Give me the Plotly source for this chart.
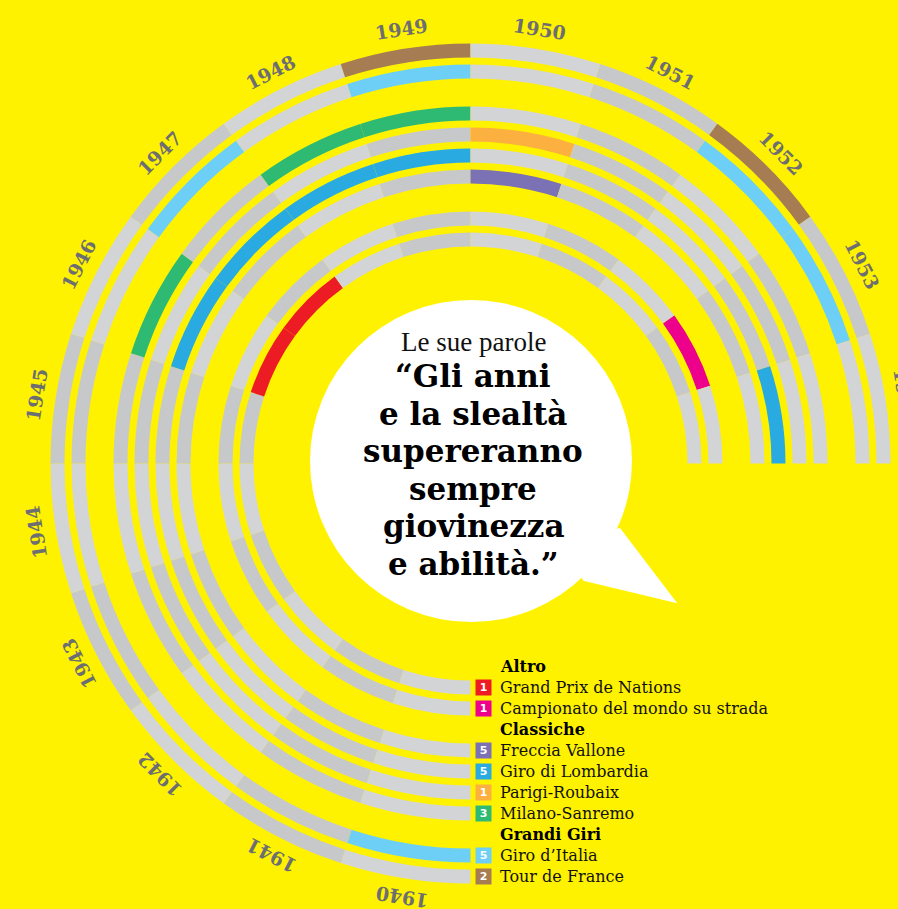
import math
import plotly.graph_objects as go

# ---------------- data ----------------
years = list(range(1940, 1955))
year_labels = [str(y) for y in years]

races = ["Grand Prix de Nations", "Campionato del mondo su strada", "Freccia Vallone",
         "Giro di Lombardia", "Parigi-Roubaix", "Milano-Sanremo", "Giro d’Italia", "Tour de France"]
group_names = ["Altro", "Classiche", "Grandi Giri"]
legend_counts = ["1", "1", "5", "5", "1", "3", "5", "2"]

wins_gp_nations = [1946, 1947]
wins_mondiale = [1953]
wins_freccia = [1950]
wins_lombardia = [1946, 1947, 1948, 1949, 1954]
wins_roubaix = [1950]
wins_sanremo = [1946, 1948, 1949]
wins_giro = [1940, 1947, 1949, 1952, 1953]
wins_tour = [1949, 1952]
wins = [wins_gp_nations, wins_mondiale, wins_freccia, wins_lombardia,
        wins_roubaix, wins_sanremo, wins_giro, wins_tour]

quote_intro = "Le sue parole"
quote_lines = ["“Gli anni", "e la slealtà", "supereranno", "sempre", "giovinezza", "e abilità.”"]

# ---------------- style ----------------
W, H = 898, 909
BG = "#FFF200"
GRAY_LIGHT = "#D3D4D6"
GRAY_DARK = "#C7C8CA"
LABEL_GRAY = "#6D6E71"
race_colors = ["#ED1C24", "#EC008C", "#7B71B5", "#29ABE2", "#FBB040", "#2EBA73", "#6DCFF5", "#A67C52"]

CX, CY = 470.5, 463.5        # centre in px (from top-left)
R_MAX = 421
BASE0, PITCH, THICK = 217, 21, 14
ring_slots = [0, 1, 3, 4, 5, 6, 8, 9]
header_slots = [-1, 2, 7]
SEG = 270 / len(years)

def px(x):
    return x / W

def py(y):
    return 1 - y / H

def theta_of(year):
    return (180 + SEG * (year - years[0]) + SEG / 2) % 360

fig = go.Figure()
thetas = [theta_of(y) for y in years]
for i, race in enumerate(races):
    inner = BASE0 + PITCH * ring_slots[i]
    cols = []
    for y in years:
        if y in wins[i]:
            cols.append(race_colors[i])
        else:
            cols.append(GRAY_LIGHT if y % 2 == 0 else GRAY_DARK)
    fig.add_trace(go.Barpolar(
        r=[THICK] * len(years), base=[inner] * len(years), theta=thetas,
        width=[SEG] * len(years), marker=dict(color=cols, line=dict(width=0)),
        name=race, showlegend=False, hoverinfo="skip"))

fig.update_layout(
    width=W, height=H, autosize=False,
    margin=dict(l=0, r=0, t=0, b=0),
    paper_bgcolor=BG, plot_bgcolor=BG,
    polar=dict(
        domain=dict(x=[px(CX - R_MAX), px(CX + R_MAX)], y=[py(CY + R_MAX), py(CY - R_MAX)]),
        bgcolor="rgba(0,0,0,0)", bargap=0, hole=0,
        radialaxis=dict(range=[0, R_MAX], visible=False),
        angularaxis=dict(visible=False, rotation=90, direction="clockwise"),
    ),
)

ann = []
# year labels
LR = 439.5
for y, lab in zip(years, year_labels):
    a = theta_of(y)
    x = CX + LR * math.sin(math.radians(a))
    yy = CY - LR * math.cos(math.radians(a))
    ta = a if a <= 180 else a - 360
    ann.append(dict(x=px(x), y=py(yy), xref="paper", yref="paper", text="<b>%s</b>" % lab,
                    showarrow=False, textangle=ta, xanchor="center", yanchor="middle",
                    font=dict(family="DejaVu Serif", size=19, color=LABEL_GRAY)))

# speech bubble
BX, BY, BR = 471, 461, 161
shapes = [
    dict(type="circle", xref="paper", yref="paper", x0=px(BX - BR), x1=px(BX + BR),
         y0=py(BY + BR), y1=py(BY - BR), fillcolor="white", line=dict(width=0), layer="below"),
]
tail = [(620, 528), (677.3, 603.3), (583.3, 580.7), (560, 540)]
path = "M " + " L ".join("%f,%f" % (px(a), py(b)) for a, b in tail) + " Z"
shapes.append(dict(type="path", xref="paper", yref="paper", path=path,
                   fillcolor="white", line=dict(width=0), layer="below"))

ann.append(dict(x=px(474), y=py(342), xref="paper", yref="paper", text=quote_intro,
                showarrow=False, xanchor="center", yanchor="middle",
                font=dict(family="Liberation Serif", size=27, color="#111111")))
for k, line in enumerate(quote_lines):
    ann.append(dict(x=px(473), y=py(376 + 37.6 * k), xref="paper", yref="paper",
                    text="<b>%s</b>" % line, showarrow=False, xanchor="center", yanchor="middle",
                    font=dict(family="DejaVu Serif", size=31, color="#000000")))

# legend
for i, race in enumerate(races):
    yc = CY + BASE0 + PITCH * ring_slots[i] + THICK / 2
    ann.append(dict(x=px(483.5), y=py(yc), xref="paper", yref="paper",
                    text="<b>%s</b>" % legend_counts[i], showarrow=False,
                    xanchor="center", yanchor="middle", width=15, height=15, borderpad=0,
                    bgcolor=race_colors[i], font=dict(family="DejaVu Sans", size=11, color="white")))
    ann.append(dict(x=px(497.5), y=py(yc), xref="paper", yref="paper", text=race,
                    showarrow=False, xanchor="left", yanchor="middle",
                    font=dict(family="DejaVu Serif", size=16, color="#111111")))
for g, s in zip(group_names, header_slots):
    yc = CY + BASE0 + PITCH * s + THICK / 2
    ann.append(dict(x=px(497.5), y=py(yc), xref="paper", yref="paper", text="<b>%s</b>" % g,
                    showarrow=False, xanchor="left", yanchor="middle",
                    font=dict(family="DejaVu Serif", size=16, color="#000000")))

fig.update_layout(annotations=ann, shapes=shapes)
fig.write_html("out.html", config={"displayModeBar": False},
               post_script="document.body.style.margin='0';")
